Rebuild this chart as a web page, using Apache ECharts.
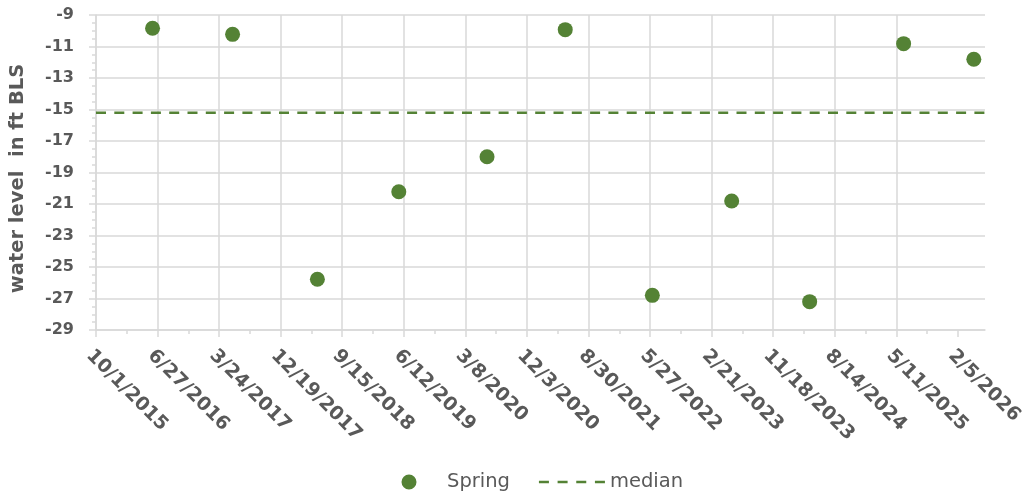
<!DOCTYPE html>
<html>
<head>
<meta charset="utf-8">
<script src="https://cdn.jsdelivr.net/npm/echarts@6/dist/echarts.min.js"></script>
<style>
  html, body { margin: 0; padding: 0; background: #ffffff; }
  #chart { width: 1034px; height: 496px; }
</style>
</head>
<body>
<div id="chart"></div>
<script>
// ---- data ----
const xTickLabels = ['10/1/2015', '6/27/2016', '3/24/2017', '12/19/2017', '9/15/2018',
  '6/12/2019', '3/8/2020', '12/3/2020', '8/30/2021', '5/27/2022', '2/21/2023',
  '11/18/2023', '8/14/2024', '5/11/2025', '2/5/2026'];
const xAxisEnd = '6/4/2026';
const springDates = ['6/5/2016', '5/22/2017', '5/29/2018', '5/21/2019', '6/11/2020',
  '5/20/2021', '6/6/2022', '5/20/2023', '4/26/2024', '6/12/2025', '4/16/2026'];
const springLevels = [-9.84, -10.23, -25.78, -20.22, -18.0, -9.93, -26.8, -20.81, -27.2, -10.82, -11.81];
const medianLevel = -15.2;
const yMin = -29, yMax = -9, yStep = 2;

// ---- helpers ----
const DAY = 86400000;
function parseMDY(s) { const p = s.split('/'); return Date.UTC(+p[2], +p[0] - 1, +p[1]); }
const origin = parseMDY(xTickLabels[0]);
function dayOf(s) { return Math.round((parseMDY(s) - origin) / DAY); }
function fmt(v) {
  const d = new Date(origin + v * DAY);
  return (d.getUTCMonth() + 1) + '/' + d.getUTCDate() + '/' + d.getUTCFullYear();
}
const tickDays = xTickLabels.map(dayOf);
const minorDays = [];
for (let i = 1; i < tickDays.length; i++) minorDays.push((tickDays[i - 1] + tickDays[i]) / 2);
const xMax = dayOf(xAxisEnd);
const tickStep = tickDays[1] - tickDays[0];
const springData = springDates.map((d, i) => [dayOf(d), springLevels[i]]);

const txt = '#595959', gridC = '#d9d9d9', green = '#548235';
const FONT = 'DejaVu Sans';

// legend icons drawn in a 66x15 box (tiny corner marks fix the box size)
const BOX = 'M0,0h0.05v0.05h-0.05z M66,15h-0.05v-0.05h0.05z ';
const springIcon = 'path://' + BOX + 'M25.5,7.5a7.5,7.5 0 1,0 15,0a7.5,7.5 0 1,0 -15,0z';
const medianIcon = 'path://' + BOX + 'M0,6.25h10v2.5h-10z M18.67,6.25h10v2.5h-10z M37.33,6.25h10v2.5h-10z M56,6.25h10v2.5h-10z';

const chart = echarts.init(document.getElementById('chart'), null, { renderer: 'canvas' });
chart.setOption({
  animation: false,
  backgroundColor: '#ffffff',
  grid: { left: 95, right: 49, top: 15, bottom: 166, containLabel: false },
  legend: {
    data: [{ name: 'Spring', icon: springIcon }, { name: 'median', icon: medianIcon }],
    left: 376, top: 472, padding: 0,
    itemWidth: 66, itemHeight: 15, itemGap: 29,
    textStyle: { color: txt, fontSize: 19.5, fontFamily: FONT }
  },
  xAxis: [{
    type: 'value', min: 0, max: xMax, interval: tickStep,
    axisLine: { show: true, lineStyle: { color: gridC, width: 1.5 } },
    axisTick: { show: true, customValues: tickDays, length: 7, lineStyle: { color: gridC, width: 1.5 } },
    axisLabel: {
      customValues: tickDays, rotate: -45, margin: 16, verticalAlign: 'top',
      color: txt, fontSize: 19, fontWeight: 'bold', fontFamily: FONT,
      formatter: v => fmt(v)
    },
    splitLine: { show: true, showMaxLine: false, lineStyle: { color: gridC, width: 1.5 } }
  }, {
    type: 'value', min: 0, max: xMax, position: 'bottom',
    axisLine: { show: false },
    axisTick: { show: true, customValues: minorDays, length: 4, lineStyle: { color: gridC, width: 1.5 } },
    axisLabel: { show: false },
    splitLine: { show: false }
  }],
  yAxis: {
    type: 'value', min: yMin, max: yMax, interval: yStep,
    name: 'water level  in ft BLS', nameLocation: 'middle', nameGap: 68,
    nameTextStyle: { color: txt, fontSize: 19.5, fontWeight: 'bold', fontFamily: FONT, padding: [0, 12, 0, 0] },
    axisLine: { show: true, lineStyle: { color: gridC, width: 1.5 } },
    axisTick: { show: true, length: 7, lineStyle: { color: gridC, width: 1.5 } },
    minorTick: { show: true, splitNumber: 4, length: 4, lineStyle: { color: gridC, width: 1.5 } },
    axisLabel: { color: txt, fontSize: 16, fontWeight: 'bold', fontFamily: FONT, margin: 22 },
    splitLine: { show: true, lineStyle: { color: gridC, width: 1.5 } }
  },
  series: [{
    name: 'Spring', type: 'scatter', xAxisIndex: 0,
    symbol: 'circle', symbolSize: 15,
    itemStyle: { color: green, opacity: 1 },
    data: springData, z: 3
  }, {
    name: 'median', type: 'line', xAxisIndex: 0,
    symbol: 'none',
    lineStyle: { color: green, width: 2.5, type: [10, 8.3] },
    itemStyle: { color: green },
    data: [[0, medianLevel], [xMax, medianLevel]], z: 2
  }]
});
</script>
</body>
</html>
